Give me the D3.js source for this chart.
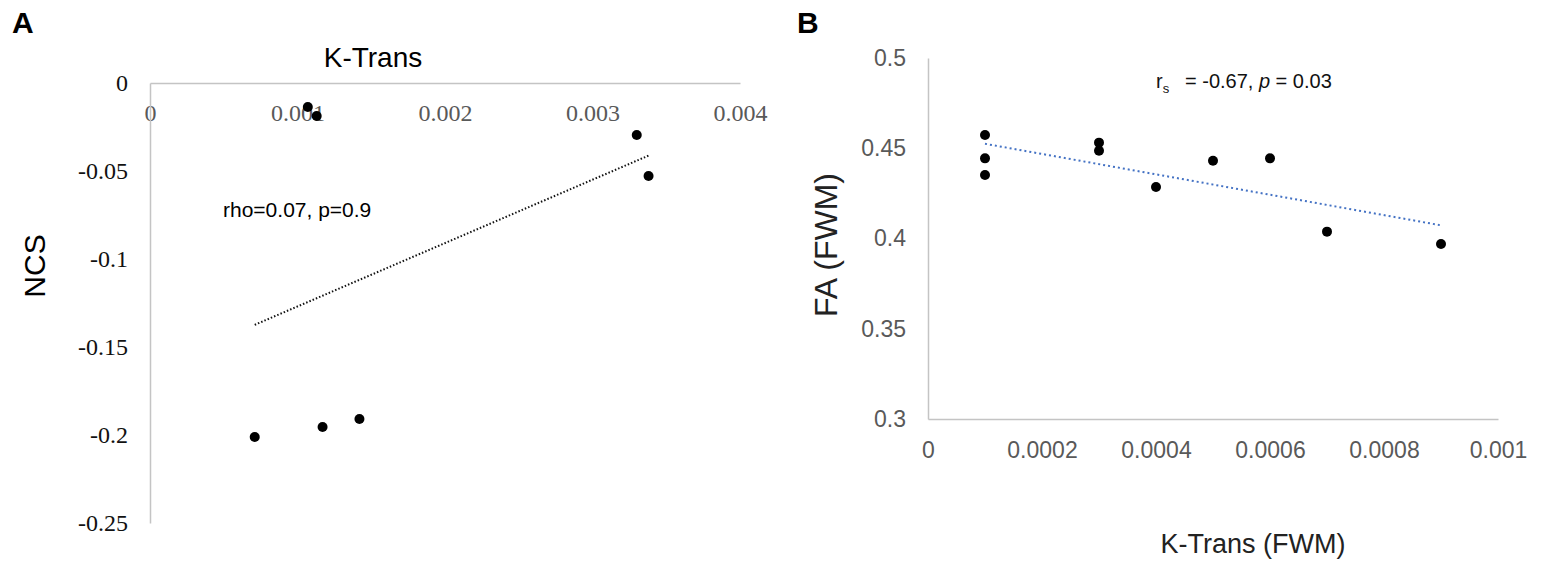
<!DOCTYPE html>
<html>
<head>
  <meta charset="UTF-8">
  <style>
    body { margin: 0; background: #fff; }
    svg { display: block; }
    .sans { font-family: "Liberation Sans", Arial, sans-serif; }
    .serif { font-family: "Liberation Serif", "Times New Roman", serif; }
  </style>
</head>
<body>
  <svg></svg>
<script src="https://d3js.org/d3.v7.min.js"></script>

<script>
let width = 1544,
    height = 571;

// panel A: K-Trans vs NCS
let ktransA = [0.00107, 0.00113, 0.00330, 0.00338, 0.00071, 0.00117, 0.00142];
let ncsA = [-0.0136, -0.0188, -0.0295, -0.0528, -0.2011, -0.1955, -0.1909];
let xTicksA = [0, 0.001, 0.002, 0.003, 0.004];
let xLabelsA = ["0", "0.001", "0.002", "0.003", "0.004"];
let yTicksA = [0, -0.05, -0.1, -0.15, -0.2, -0.25];
let yLabelsA = ["0", "-0.05", "-0.1", "-0.15", "-0.2", "-0.25"];

// panel B: K-Trans (FWM) vs FA (FWM)
let ktransB = [0.0001, 0.0001, 0.0001, 0.0003, 0.0003, 0.0004, 0.0005, 0.0006, 0.0007, 0.0009];
let faB = [0.4573, 0.4444, 0.4352, 0.4531, 0.4486, 0.4285, 0.4431, 0.4444, 0.4038, 0.3970];
let xTicksB = [0, 0.0002, 0.0004, 0.0006, 0.0008, 0.001];
let xLabelsB = ["0", "0.0002", "0.0004", "0.0006", "0.0008", "0.001"];
let yTicksB = [0.3, 0.35, 0.4, 0.45, 0.5];
let yLabelsB = ["0.3", "0.35", "0.4", "0.45", "0.5"];

let svg = d3.select("svg")
    .attr("width", width)
    .attr("height", height);

svg.append("rect").attr("width", width).attr("height", height).attr("fill", "#fff");

// least squares trendline between min and max x
function trend(xs, ys) {
  let mx = d3.mean(xs), my = d3.mean(ys);
  let sxy = d3.sum(xs, (x, i) => (x - mx) * (ys[i] - my));
  let sxx = d3.sum(xs, x => (x - mx) * (x - mx));
  let b = sxy / sxx, a = my - b * mx;
  let x0 = d3.min(xs), x1 = d3.max(xs);
  return [[x0, a + b * x0], [x1, a + b * x1]];
}

function styleAxis(g, font, size, color) {
  g.select(".domain").attr("stroke", "#c4c4c4").attr("stroke-width", 1.5);
  g.selectAll("text")
    .attr("class", font)
    .attr("font-size", size)
    .attr("fill", color);
}

// ---------- panel A ----------
let xA = d3.scaleLinear().domain([0, 0.004]).range([150, 740]);
let yA = d3.scaleLinear().domain([-0.25, 0]).range([523, 83]);

svg.append("g")
  .attr("transform", "translate(0," + yA(0) + ")")
  .call(d3.axisBottom(xA).tickValues(xTicksA)
    .tickFormat((d, i) => xLabelsA[i]).tickSize(0).tickPadding(21))
  .call(g => styleAxis(g, "serif", 24, "#595959"));

svg.append("g")
  .attr("transform", "translate(" + xA(0) + ",0)")
  .call(d3.axisLeft(yA).tickValues(yTicksA)
    .tickFormat((d, i) => yLabelsA[i]).tickSize(0).tickPadding(22))
  .call(g => styleAxis(g, "serif", 24, "#111"));

let lineA = trend(ktransA, ncsA);
svg.append("path")
  .attr("d", d3.line().x(d => xA(d[0])).y(d => yA(d[1]))(lineA))
  .attr("fill", "none")
  .attr("stroke", "#111")
  .attr("stroke-width", 2)
  .attr("stroke-dasharray", "1.5,2");

svg.append("g")
  .selectAll("circle")
  .data(ktransA)
  .enter()
  .append("circle")
    .attr("cx", d => xA(d))
    .attr("cy", (d, i) => yA(ncsA[i]))
    .attr("r", 5)
    .attr("fill", "#000");

svg.append("text").attr("class", "sans")
  .attr("x", 12).attr("y", 33)
  .attr("font-size", 30).attr("font-weight", "bold")
  .text("A");

svg.append("text").attr("class", "sans")
  .attr("x", 373).attr("y", 67)
  .attr("text-anchor", "middle")
  .attr("font-size", 28)
  .text("K-Trans");

svg.append("text").attr("class", "sans")
  .attr("transform", "translate(45,266) rotate(-90)")
  .attr("text-anchor", "middle")
  .attr("font-size", 30)
  .text("NCS");

svg.append("text").attr("class", "sans")
  .attr("x", 223).attr("y", 217)
  .attr("font-size", 21)
  .text("rho=0.07, p=0.9");

// ---------- panel B ----------
let xB = d3.scaleLinear().domain([0, 0.001]).range([928, 1498]);
let yB = d3.scaleLinear().domain([0.3, 0.5]).range([419, 58]);

svg.append("g")
  .attr("transform", "translate(0," + yB(0.3) + ")")
  .call(d3.axisBottom(xB).tickValues(xTicksB)
    .tickFormat((d, i) => xLabelsB[i]).tickSize(0).tickPadding(23))
  .call(g => styleAxis(g, "sans", 23, "#595959"));

svg.append("g")
  .attr("transform", "translate(" + xB(0) + ",0)")
  .call(d3.axisLeft(yB).tickValues(yTicksB)
    .tickFormat((d, i) => yLabelsB[i]).tickSize(0).tickPadding(22))
  .call(g => styleAxis(g, "sans", 23, "#595959"));

let lineB = trend(ktransB, faB);
svg.append("path")
  .attr("d", d3.line().x(d => xB(d[0])).y(d => yB(d[1]))(lineB))
  .attr("fill", "none")
  .attr("stroke", "#4472c4")
  .attr("stroke-width", 2)
  .attr("stroke-dasharray", "2,3");

svg.append("g")
  .selectAll("circle")
  .data(ktransB)
  .enter()
  .append("circle")
    .attr("cx", d => xB(d))
    .attr("cy", (d, i) => yB(faB[i]))
    .attr("r", 5)
    .attr("fill", "#000");

svg.append("text").attr("class", "sans")
  .attr("x", 797).attr("y", 33)
  .attr("font-size", 30).attr("font-weight", "bold")
  .text("B");

let rs = svg.append("text").attr("class", "sans")
  .attr("x", 1156).attr("y", 88)
  .attr("font-size", 20)
  .attr("fill", "#111");
rs.append("tspan").text("r");
rs.append("tspan").attr("font-size", 13).attr("dy", 5).text("s");
rs.append("tspan").attr("x", 1185).attr("dy", -5).text("= -0.67, ");
rs.append("tspan").attr("font-style", "italic").text("p");
rs.append("tspan").text(" = 0.03");

svg.append("text").attr("class", "sans")
  .attr("transform", "translate(837,245) rotate(-90)")
  .attr("text-anchor", "middle")
  .attr("font-size", 32)
  .attr("fill", "#222")
  .text("FA (FWM)");

svg.append("text").attr("class", "sans")
  .attr("x", 1253).attr("y", 553)
  .attr("text-anchor", "middle")
  .attr("font-size", 27)
  .attr("fill", "#222")
  .text("K-Trans (FWM)");
</script>
</body>
</html>
